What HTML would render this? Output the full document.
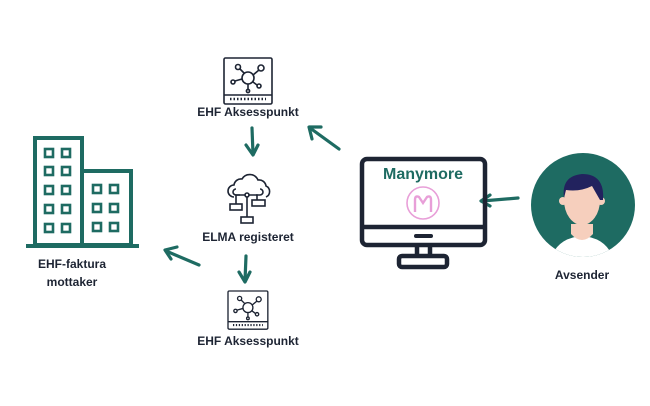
<!DOCTYPE html>
<html><head><meta charset="utf-8"><style>
html,body{margin:0;padding:0;background:#fff;width:650px;height:406px;overflow:hidden}
svg text{font-family:"Liberation Sans",sans-serif;font-weight:bold;fill:#1d2433}
</style></head><body>
<svg width="650" height="406" viewBox="0 0 650 406" xmlns="http://www.w3.org/2000/svg">
<defs>
<g id="ap" fill="none" stroke="#1d2433" stroke-width="1.6">
<rect x="0" y="0" width="48" height="46" rx="1.5"/>
<line x1="0" y1="37" x2="48" y2="37"/>
<line x1="6" y1="41" x2="42" y2="41" stroke-dasharray="1.5 2" stroke-width="2.5"/>
<circle cx="24" cy="20" r="6"/>
<circle cx="14" cy="9" r="2.5"/><line x1="16" y1="11" x2="20" y2="15"/>
<circle cx="37" cy="10" r="3"/><line x1="35" y1="12" x2="29" y2="17"/>
<circle cx="9" cy="24" r="2"/><line x1="11" y1="23" x2="18" y2="21"/>
<circle cx="35" cy="28" r="2"/><line x1="33" y1="27" x2="29" y2="24"/>
<circle cx="24" cy="33" r="1.6"/><line x1="24" y1="26" x2="24" y2="31"/>
</g>
</defs>
<g fill="none" stroke="#1e6b62" stroke-width="4">
<rect x="35" y="138" width="47" height="107"/>
<rect x="82" y="171" width="49" height="74"/>
<line x1="26" y1="246" x2="139" y2="246"/>
</g>
<g fill="none" stroke="#1e6b62" stroke-width="2.6">
<rect x="45" y="149" width="8" height="8"/><rect x="62" y="149" width="8" height="8"/>
<rect x="45" y="167" width="8" height="8"/><rect x="62" y="167" width="8" height="8"/>
<rect x="45" y="186" width="8" height="8"/><rect x="62" y="186" width="8" height="8"/>
<rect x="45" y="205" width="8" height="8"/><rect x="62" y="205" width="8" height="8"/>
<rect x="45" y="224" width="8" height="8"/><rect x="62" y="224" width="8" height="8"/>
<rect x="93" y="185" width="8" height="8"/><rect x="110" y="185" width="8" height="8"/>
<rect x="93" y="204" width="8" height="8"/><rect x="110" y="204" width="8" height="8"/>
<rect x="93" y="223" width="8" height="8"/><rect x="110" y="223" width="8" height="8"/>
</g>
<text x="72" y="268" font-size="12" text-anchor="middle">EHF-faktura</text>
<text x="72" y="286" font-size="12" text-anchor="middle">mottaker</text>
<use href="#ap" transform="translate(224,58)"/>
<text x="248" y="116" font-size="12" text-anchor="middle">EHF Aksesspunkt</text>
<use href="#ap" transform="translate(228,291) scale(0.83)"/>
<text x="248" y="345" font-size="12" text-anchor="middle">EHF Aksesspunkt</text>
<g fill="none" stroke="#1d2433" stroke-width="1.6">
<path d="M234 197 a6 6 0 0 1 0-12 a7 7 0 0 1 8-6 a9 9 0 0 1 16 1 a7 7 0 0 1 8 6 a6 6 0 0 1 0 11"/>
<path d="M240 195 h-4 a3 3 0 0 1 0-6 M256 195 h4 a3 3 0 0 0 0-6"/>
<circle cx="247" cy="195" r="2"/>
<line x1="247" y1="197" x2="247" y2="217"/>
<polyline points="245,195 236,195 236,204"/>
<polyline points="249,195 257,195 257,200"/>
<rect x="230" y="204" width="12" height="6"/>
<rect x="252" y="200" width="13" height="6"/>
<rect x="241" y="217" width="12" height="6"/>
</g>
<text x="248" y="241" font-size="12" text-anchor="middle">ELMA registeret</text>
<g fill="none" stroke="#1e6b62" stroke-width="3.2" stroke-linecap="round" stroke-linejoin="round">
<line x1="252" y1="128" x2="253" y2="154"/><polyline points="246,145 253,155 258,145"/>
<line x1="246" y1="256" x2="245" y2="281"/><polyline points="239,272 245,282 250,272"/>
<line x1="339" y1="149" x2="310" y2="128"/><polyline points="312,139 309,127 321,127"/>
<line x1="199" y1="265" x2="166" y2="251"/><polyline points="171,259 165,250 177,247"/>
<line x1="518" y1="198" x2="482" y2="201"/><polyline points="490,195 481,201 490,206"/>
</g>
<g fill="none" stroke="#1d2433" stroke-width="4.5">
<rect x="362" y="159" width="123" height="86" rx="5"/>
<line x1="362" y1="227" x2="485" y2="227"/>
<line x1="417" y1="245" x2="417" y2="256"/><line x1="430" y1="245" x2="430" y2="256"/>
<rect x="399" y="256" width="48" height="11" rx="3"/>
</g>
<line x1="416" y1="236" x2="431" y2="236" stroke="#1d2433" stroke-width="4" stroke-linecap="round"/>
<text x="423" y="179" font-size="16" text-anchor="middle" style="fill:#1e6b62">Manymore</text>
<circle cx="423" cy="203" r="16" fill="none" stroke="#e89fd8" stroke-width="1.6"/>
<path d="M415 212 V200 Q415 195 419 197 L423 203 L427 197 Q431 195 431 200 V212" fill="none" stroke="#e89fd8" stroke-width="2.4"/>
<clipPath id="cc"><circle cx="583" cy="205" r="52"/></clipPath>
<circle cx="583" cy="205" r="52" fill="#1e6b62"/>
<g clip-path="url(#cc)">
<path d="M548 270 Q552 238 582 236 Q612 238 616 270 Z" fill="#fff"/>
<path d="M571 224 h22 v10 q-11 12 -22 0 Z" fill="#f6cfbd"/>
<circle cx="563" cy="201" r="4" fill="#f6cfbd"/>
<circle cx="601" cy="201" r="4" fill="#f6cfbd"/>
<ellipse cx="582" cy="200" rx="18" ry="25" fill="#f6cfbd"/>
<path d="M564 198 Q561 176 582 174 Q605 174 603 200 L600 200 Q596 193 592 186 Q580 192 566 190 Z" fill="#22225e"/>
</g>
<text x="582" y="279" font-size="12" text-anchor="middle">Avsender</text>
</svg>
</body></html>
